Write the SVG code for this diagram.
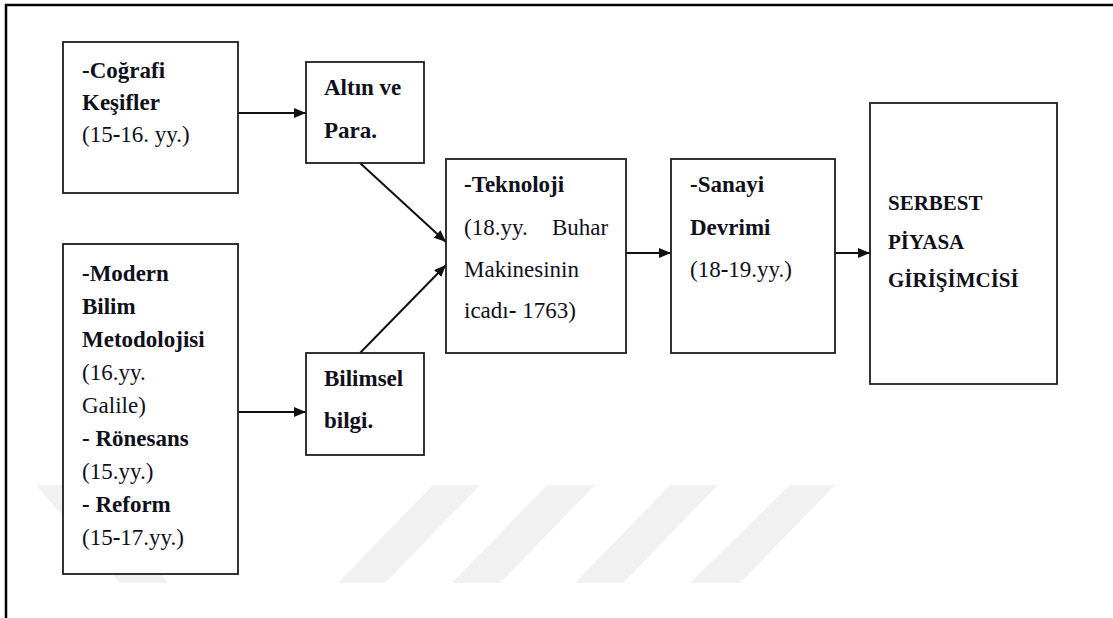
<svg xmlns="http://www.w3.org/2000/svg" width="1113" height="618" viewBox="0 0 1113 618">
<style>
.box{fill:#fff;stroke:#1e1e1e;stroke-width:1.8}
.t{font-family:"Liberation Serif","Times New Roman",serif;font-size:23px;fill:#10101c}
.b{font-weight:bold}
.w{fill:#f1f1f1}
.c{stroke:#111;stroke-width:2;fill:none}
</style>
<defs>
<marker id="ah" viewBox="0 0 12 10" refX="12" refY="5" markerWidth="12" markerHeight="10" markerUnits="userSpaceOnUse" orient="auto">
<path d="M0,0 L12,5 L0,10 z" fill="#111"/>
</marker>
</defs>
<rect width="1113" height="618" fill="#fff"/>
<g id="watermark">
<polygon class="w" points="36,485 83,485 168,583 120,583"/>
<polygon class="w" points="433,485 480,485 385,583 338,583"/>
<polygon class="w" points="547,485 595,485 500,583 452,583"/>
<polygon class="w" points="670,485 718,485 623,583 575,583"/>
<polygon class="w" points="790,485 835,485 740,583 690,583"/>
</g>
<path d="M6,618 V5 H1113" stroke="#000" stroke-width="2.5" fill="none"/>
<g id="connectors">
<line class="c" x1="238" y1="113" x2="306" y2="113" marker-end="url(#ah)"/>
<line class="c" x1="238" y1="412" x2="306" y2="412" marker-end="url(#ah)"/>
<line class="c" x1="360" y1="163" x2="446" y2="242" marker-end="url(#ah)"/>
<line class="c" x1="360" y1="353" x2="446" y2="265" marker-end="url(#ah)"/>
<line class="c" x1="626" y1="253" x2="671" y2="253" marker-end="url(#ah)"/>
<line class="c" x1="835" y1="253" x2="870" y2="253" marker-end="url(#ah)"/>
</g>
<g id="cografi">
<rect class="box" x="63" y="42" width="175" height="151"/>
<text class="t b" x="82" y="78">-Coğrafi</text>
<text class="t b" x="82" y="110">Keşifler</text>
<text class="t" x="82" y="142">(15<tspan class="b">-</tspan>16. yy.)</text>
</g>
<g id="altin">
<rect class="box" x="306" y="62" width="118" height="101"/>
<text class="t b" x="324" y="95">Altın ve</text>
<text class="t b" x="324" y="138">Para.</text>
</g>
<g id="modern">
<rect class="box" x="63" y="244" width="175" height="330"/>
<text class="t b" x="82" y="281">-Modern</text>
<text class="t b" x="82" y="314">Bilim</text>
<text class="t b" x="82" y="347">Metodolojisi</text>
<text class="t" x="82" y="380">(16.yy.</text>
<text class="t" x="82" y="413">Galile)</text>
<text class="t b" x="82" y="446">- Rönesans</text>
<text class="t" x="82" y="479">(15.yy.)</text>
<text class="t b" x="82" y="512">- Reform</text>
<text class="t" x="82" y="545">(15<tspan class="b">-</tspan>17.yy.)</text>
</g>
<g id="bilimsel">
<rect class="box" x="306" y="353" width="118" height="102"/>
<text class="t b" x="324" y="386">Bilimsel</text>
<text class="t b" x="324" y="428">bilgi.</text>
</g>
<g id="teknoloji">
<rect class="box" x="446" y="159" width="180" height="194"/>
<text class="t b" x="464" y="192">-Teknoloji</text>
<text class="t" x="464" y="235">(18.yy. <tspan x="552">Buhar</tspan></text>
<text class="t" x="464" y="277">Makinesinin</text>
<text class="t" x="464" y="318">icadı<tspan class="b">-</tspan> 1763)</text>
</g>
<g id="sanayi">
<rect class="box" x="671" y="159" width="164" height="194"/>
<text class="t b" x="690" y="192">-Sanayi</text>
<text class="t b" x="690" y="235">Devrimi</text>
<text class="t" x="690" y="277">(18<tspan class="b">-</tspan>19.yy.)</text>
</g>
<g id="serbest">
<rect class="box" x="870" y="103" width="187" height="281"/>
<text class="t b" x="888" y="210" style="font-size:21px">SERBEST</text>
<text class="t b" x="888" y="249" style="font-size:21px">PİYASA</text>
<text class="t b" x="888" y="287" style="font-size:21px">GİRİŞİMCİSİ</text>
</g>
</svg>
